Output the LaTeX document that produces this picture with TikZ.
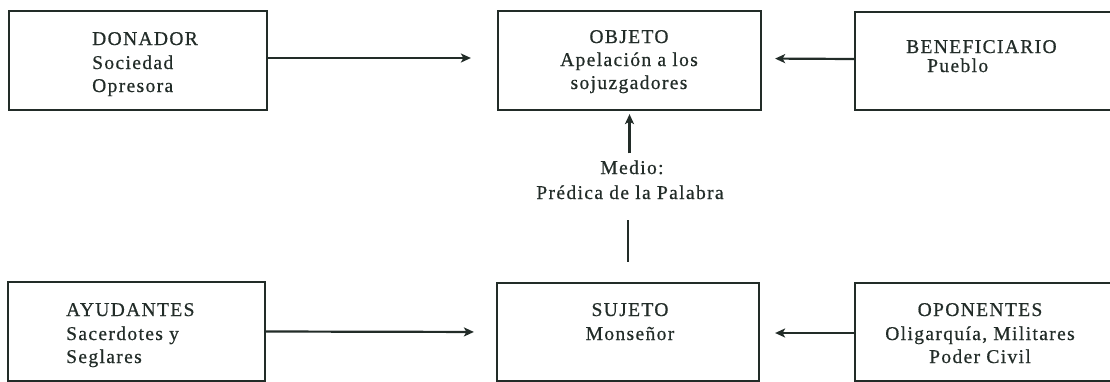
\documentclass[tikz,border=0pt]{standalone}
\usepackage{fontspec}
\setmainfont{Liberation Serif}[LetterSpace=7, FakeBold=0.6]
\usetikzlibrary{arrows.meta}
\definecolor{ink}{RGB}{34,44,40}
\begin{document}
\begin{tikzpicture}[x=1pt,y=-1pt,
  box/.style={draw=ink, line width=2.2pt, rectangle, inner sep=0pt, minimum height=99pt},
  txt/.style={inner sep=0pt, text=ink, font=\fontsize{19.5}{23.5}\selectfont},
  conn/.style={draw=ink, line width=2.2pt},
  arr/.style={conn, -{Stealth[length=10pt,width=9pt,inset=2.5pt]}}]
\clip (0,0) rectangle (1110,381);
\fill[white] (0,0) rectangle (1110,381);
% boxes
\node[box, minimum width=258pt] (don) at (138,60.5) {};
\node[box, minimum width=263pt] (obj) at (629.5,60.5) {};
\node[box, minimum width=265pt, minimum height=98pt] (ben) at (987.5,61) {};
\node[box, minimum width=257pt] (ayu) at (136.5,331.5) {};
\node[box, minimum width=262pt, minimum height=98pt] (suj) at (628,332) {};
\node[box, minimum width=265pt, minimum height=98pt] (opo) at (987.5,332) {};
% texts
\node[txt, anchor=base west] (don1) at (92,45) {DONADOR};
\node[txt, anchor=base west] (don2) at (92,69) {Sociedad};
\node[txt, anchor=base west] (don3) at (92,92) {Opresora};
\node[txt, anchor=base] (obj1) at (629,43) {OBJETO};
\node[txt, anchor=base] (obj2) at (629,66) {Apelación a los};
\node[txt, anchor=base] (obj3) at (629,89) {sojuzgadores};
\node[txt, anchor=base west] (ben1) at (906,53) {BENEFICIARIO};
\node[txt, anchor=base west] (ben2) at (927,72) {Pueblo};
\node[txt, anchor=base] (med1) at (632,174) {Medio:};
\node[txt, anchor=base] (med2) at (630,199) {Prédica de la Palabra};
\node[txt, anchor=base west] (ayu1) at (66,316) {AYUDANTES};
\node[txt, anchor=base west] (ayu2) at (66,340) {Sacerdotes y};
\node[txt, anchor=base west] (ayu3) at (66,363) {Seglares};
\node[txt, anchor=base] (suj1) at (630,316) {SUJETO};
\node[txt, anchor=base] (suj2) at (630,340) {Monseñor};
\node[txt, anchor=base] (opo1) at (980,316) {OPONENTES};
\node[txt, anchor=base] (opo2) at (980,340) {Oligarquía, Militares};
\node[txt, anchor=base] (opo3) at (980,363) {Poder Civil};
% connectors
\draw[arr, shorten >=26pt] ([yshift=2.5pt]don.east) -- ([yshift=2.5pt]obj.west);
\draw[arr, shorten >=13pt] ([yshift=2pt]ben.west) -- ([yshift=2pt]obj.east);
\draw[arr, shorten >=22pt] (ayu.east) -- (suj.west);
\draw[arr, shorten >=15pt] ([yshift=-1pt]opo.west) -- ([yshift=-1pt]suj.east);
\draw[arr, shorten <=7pt, shorten >=3pt] (obj.south |- med1.north) -- (obj.south);
\draw[conn, shorten <=21pt, shorten >=20pt] (suj.north |- med2.south) -- (suj.north);
\end{tikzpicture}
\end{document}
